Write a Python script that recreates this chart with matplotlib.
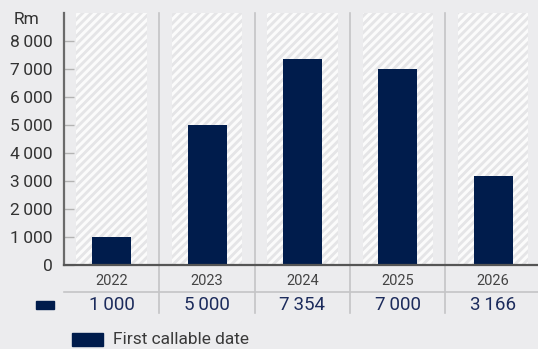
import matplotlib.pyplot as plt
from matplotlib.patches import Rectangle
from matplotlib.lines import Line2D

years = ['2022', '2023', '2024', '2025', '2026']
amounts = [1000, 5000, 7354, 7000, 3166]
amount_labels = ['1\u2009000', '5\u2009000', '7\u2009354', '7\u2009000', '3\u2009166']
yticks = [0, 1000, 2000, 3000, 4000, 5000, 6000, 7000, 8000]
ytick_labels = ['0', '1\u2009000', '2\u2009000', '3\u2009000', '4\u2009000',
                '5\u2009000', '6\u2009000', '7\u2009000', '8\u2009000']
legend_label = 'First callable date'

navy = '#001c4c'
bg = '#ececee'
grid_grey = '#c4c4c6'

plt.rcParams['font.family'] = ['Roboto', 'DejaVu Sans']
plt.rcParams['hatch.linewidth'] = 2.2

fig = plt.figure(figsize=(5.38, 3.49), dpi=100, facecolor=bg)
ax = fig.add_axes([64 / 538, 1 - 265 / 349, 1 - 64 / 538, (265 - 13) / 349])
ax.set_facecolor(bg)

x = list(range(len(years)))
ymax = 9000

# hatched background columns
ax.bar(x, [ymax] * len(x), width=0.74, color='#e5e5e7', edgecolor='#fbfbfb',
       linewidth=0, hatch='////', zorder=1)
ax.bar(x, amounts, width=0.41, color=navy, zorder=3)

ax.set_xlim(-0.5, 4.47)
ax.set_ylim(0, ymax)

# separators between categories, running down through the table
for b in [0.5, 1.5, 2.5, 3.5]:
    ax.axvline(b, ymin=-0.19, ymax=1, color=grid_grey, lw=1.2, clip_on=False, zorder=2)

for s in ['top', 'right']:
    ax.spines[s].set_visible(False)
ax.spines['left'].set_color('#6a6a6a')
ax.spines['left'].set_linewidth(1.6)
ax.spines['bottom'].set_color('#555555')
ax.spines['bottom'].set_linewidth(1.6)
ax.spines['bottom'].set_zorder(4)

ax.set_yticks(yticks)
ax.set_yticklabels(ytick_labels)
ax.tick_params(axis='y', direction='in', length=7, width=1, color='#b4b4b4',
               labelsize=12.5, labelcolor='#333333', pad=8)
ax.set_xticks([])
ax.text(-0.053, 0.976, 'Rm', transform=ax.transAxes, ha='right', va='center',
        fontsize=12.5, color='#333333')

# table under the axis
ybase = ax.get_xaxis_transform()
for i, (yr, lab) in enumerate(zip(years, amount_labels)):
    ax.text(i, -0.063, yr, transform=ybase, ha='center', va='center',
            fontsize=10.5, color='#444444')
    ax.text(i, -0.158, lab, transform=ybase, ha='center', va='center',
            fontsize=13.5, color='#1c2b5c')
ax.add_line(Line2D([-0.5, 4.47], [-0.107, -0.107], transform=ybase,
                   color=grid_grey, lw=1.2, clip_on=False))

# series marker in the table row and the legend
fig.patches.append(Rectangle((36 / 538, 1 - 309 / 349), 18 / 538, 8 / 349,
                             transform=fig.transFigure, color=navy))
fig.patches.append(Rectangle((72 / 538, 1 - 346 / 349), 31 / 538, 13 / 349,
                             transform=fig.transFigure, color=navy))
fig.text(113 / 538, 1 - 339 / 349, legend_label, ha='left', va='center',
         fontsize=12.5, color='#3a3a3a')

fig.savefig('out.png', dpi=100, facecolor=bg)
